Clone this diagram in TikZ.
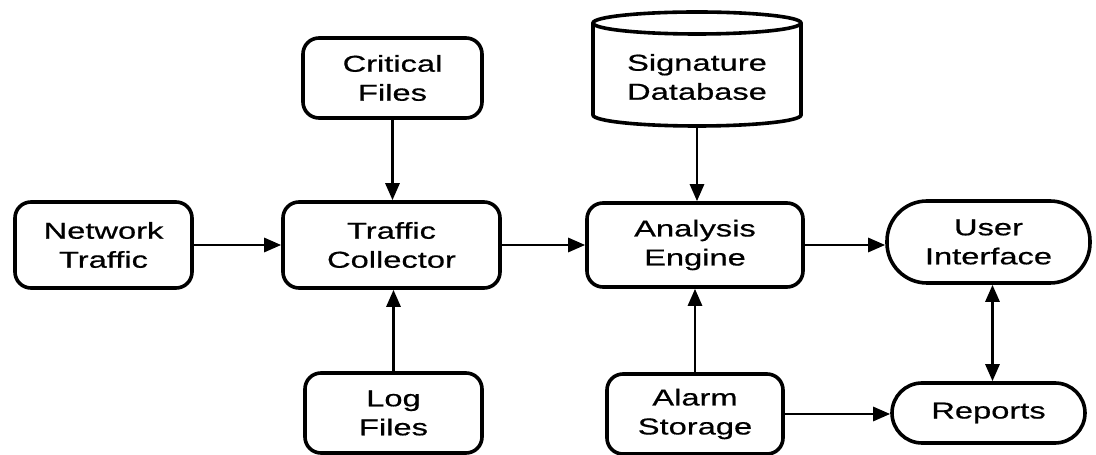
\documentclass[tikz,border=0pt]{standalone}
\usepackage{fontspec}
\setmainfont{Liberation Sans}[FakeStretch=1.42, FakeBold=0.6]
\usetikzlibrary{arrows.meta}
\begin{document}
\begin{tikzpicture}[x=1pt,y=1pt,
  txt/.style={align=center, font=\fontsize{23}{29}\selectfont, inner sep=0pt},
  box/.style={txt, draw, line width=3.6pt, rounded corners=16pt},
  pill/.style={txt, draw, line width=3.6pt},
  tip/.style={},
  link/.style={line width=2.8pt, -{Triangle[length=17pt,width=14pt]}},
  both/.style={line width=2.8pt, {Triangle[length=17pt,width=14pt]}-{Triangle[length=17pt,width=14pt]}}]
\useasboundingbox (0,0) rectangle (1096,455);

% sources and collector
\node[box, minimum width=177pt, minimum height=86pt] (net)   at (103.5,210) {Network\\Traffic};
\node[box, minimum width=179pt, minimum height=80pt] (crit)  at (392.5,377) {Critical\\Files};
\node[box, minimum width=217pt, minimum height=86pt] (coll)  at (391.5,210) {Traffic\\Collector};
\node[box, minimum width=177pt, minimum height=80pt] (log)   at (393.5,42)  {Log\\Files};

% analysis
\node[box, minimum width=216pt, minimum height=84pt] (ana)   at (695,210)   {Analysis\\Engine};
\node[box, minimum width=176pt, minimum height=80pt] (alarm) at (695,41)    {Alarm\\Storage};

% signature database drawn as a cylinder
\node[txt] (sig) at (697,378) {Signature\\Database};
\draw[line width=3.6pt] (593,432) -- (593,340)
  arc[start angle=180, end angle=360, x radius=104, y radius=11]
  -- (801,432)
  arc[start angle=0, end angle=360, x radius=104, y radius=11];
\coordinate (sigbase) at (697,329);

% outputs
\node[pill, rounded corners=40pt, minimum width=203pt, minimum height=82pt] (ui) at (988.5,213) {User\\Interface};
\node[pill, rounded corners=30pt, minimum width=193pt, minimum height=60pt] (rep) at (988.5,42) {Reports};

% connectors
\draw[link] (net) -- (coll);
\draw[link] (crit.south) -- (crit.south |- coll.north);
\draw[link] (log.north) -- (log.north |- coll.south);
\draw[link] (coll) -- (ana);
\draw[link] (sigbase) -- (sigbase |- ana.north);
\draw[link] (alarm.north) -- (alarm.north |- ana.south);
\draw[link] (ana.east) -- (ana.east -| ui.west);
\draw[link] (alarm.east) -- (alarm.east -| rep.west);
\draw[both] ([xshift=4pt]ui.south) -- ([xshift=4pt]rep.north);
\end{tikzpicture}
\end{document}
